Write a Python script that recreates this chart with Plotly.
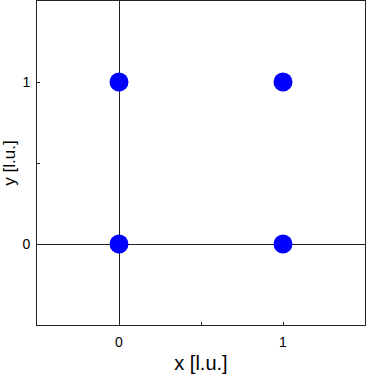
import plotly.graph_objects as go

x_vals = [0, 1, 0, 1]
y_vals = [0, 0, 1, 1]
tick_vals = [0, 0.5, 1]
tick_text = ["0", "", "1"]

FONT = "Liberation Sans, Arial, Helvetica, sans-serif"

fig = go.Figure()
fig.add_trace(go.Scatter(
    x=x_vals, y=y_vals, mode="markers",
    marker=dict(size=19, color="#0000ff", line=dict(width=0)),
    showlegend=False, cliponaxis=False,
))

axis_common = dict(
    showgrid=False, automargin=False,
    zeroline=True, zerolinecolor="#222222", zerolinewidth=1,
    showline=True, linecolor="#222222", linewidth=1, mirror=True,
    ticks="inside", ticklen=3, tickcolor="#222222", tickwidth=1,
    tickvals=tick_vals, ticktext=tick_text,
    tickfont=dict(family=FONT, size=14, color="#000000"),
)

fig.update_layout(
    width=366, height=374,
    margin=dict(l=37, r=1, t=1, b=49),
    plot_bgcolor="white", paper_bgcolor="white",
    xaxis=dict(range=[-0.5, 1.5], ticklabelstandoff=4,
               title=dict(text="x [l.u.]", standoff=13,
                          font=dict(family=FONT, size=20, color="#000000")),
               **axis_common),
    yaxis=dict(range=[-0.5, 1.5], ticklabelstandoff=3,
               title=dict(text="y [l.u.]", standoff=6,
                          font=dict(family=FONT, size=17, color="#000000")),
               **axis_common),
)

fig.write_html("out.html")
